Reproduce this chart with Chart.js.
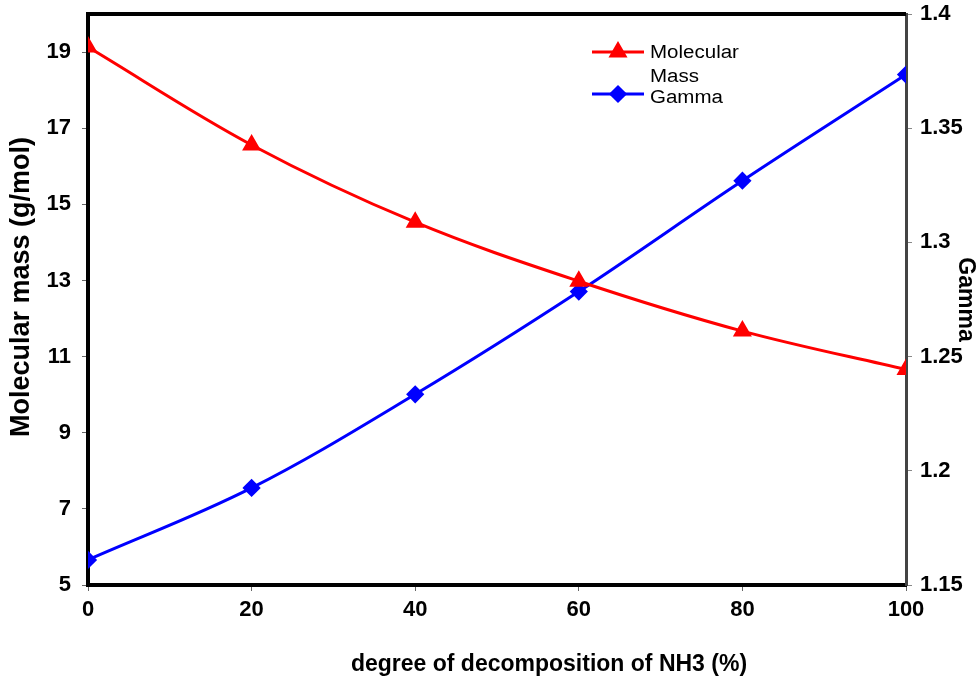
<!DOCTYPE html>
<html>
<head>
<meta charset="utf-8">
<script src="https://cdn.jsdelivr.net/npm/chart.js@4"></script>
<style>
  body { margin: 0; background: #fff; }
  #wrap { width: 979px; height: 683px; }
</style>
</head>
<body>
<div id="wrap"><canvas id="chart"></canvas></div>
<script>
// data
const decomposition = [0, 20, 40, 60, 80, 100]
const molecularMass = [19.13, 16.56, 14.53, 12.98, 11.67, 10.66]
const gamma = [1.161, 1.1925, 1.2335, 1.2785, 1.327, 1.3735]

const xTicks = [0, 20, 40, 60, 80, 100]
const massTicks = [5, 7, 9, 11, 13, 15, 17, 19]
const gammaTicks = [1.15, 1.2, 1.25, 1.3, 1.35, 1.4]

const legendLabels = [['Molecular', 'Mass'], ['Gamma']]
const xTitle = 'degree of decomposition of NH3 (%)'
const yTitle = 'Molecular mass (g/mol)'

const tickFont = { family: 'Liberation Sans, Arial', size: 22, weight: 'bold' }
const font = (size) => ({ family: 'Liberation Sans, Arial', size: size, weight: 'bold' })

// top frame line, legend and the two axis titles that sit off-centre
const extras = {
  id: 'extras',
  afterDraw(chart) {
    const c = chart.ctx
    const a = chart.chartArea
    c.save()
    c.strokeStyle = '#000'
    c.lineWidth = 4
    c.beginPath()
    c.moveTo(a.left - 2, a.top)
    c.lineTo(a.right, a.top)
    c.stroke()

    const items = [
      { color: '#ff0000', style: 'triangle', r: 8, y: 52 },
      { color: '#0000ff', style: 'rectRot', r: 7, y: 94 }
    ]
    c.textBaseline = 'middle'
    items.forEach((it, i) => {
      c.strokeStyle = it.color
      c.lineWidth = 3
      c.beginPath()
      c.moveTo(592, it.y)
      c.lineTo(644, it.y)
      c.stroke()
      c.fillStyle = it.color
      Chart.helpers.drawPoint(c, { pointStyle: it.style, radius: it.r, borderWidth: 1 }, 618, it.y)
      c.fillStyle = '#000'
      legendLabels[i].forEach((t, j) => {
        c.save()
        c.translate(650, it.y + 1 + j * 24 + (i == 1 ? 3 : 0))
        c.scale(1.14, 1)
        c.font = '18px Liberation Sans, Arial'
        c.fillText(t, 0, 0)
        c.restore()
      })
    })

    c.fillStyle = '#000'
    c.textAlign = 'center'
    c.font = 'bold 23px Liberation Sans, Arial'
    c.fillText(xTitle, 549, 665)
    c.translate(22, 287)
    c.rotate(-Math.PI / 2)
    c.font = 'bold 27px Liberation Sans, Arial'
    c.fillText(yTitle, 0, 0)
    c.restore()
  }
}

new Chart(document.getElementById('chart'), {
  type: 'line',
  data: {
    labels: decomposition,
    datasets: [
      {
        label: 'Molecular Mass',
        data: decomposition.map((x, i) => ({ x: x, y: molecularMass[i] })),
        borderColor: '#ff0000',
        backgroundColor: '#ff0000',
        borderWidth: 3,
        pointStyle: 'triangle',
        pointRadius: 8,
        pointHoverRadius: 8,
        tension: 0.35,
        yAxisID: 'y'
      },
      {
        label: 'Gamma',
        data: decomposition.map((x, i) => ({ x: x, y: gamma[i] })),
        borderColor: '#0000ff',
        backgroundColor: '#0000ff',
        borderWidth: 3,
        pointStyle: 'rectRot',
        pointRadius: 7,
        pointHoverRadius: 7,
        tension: 0.35,
        yAxisID: 'y2'
      }
    ]
  },
  options: {
    responsive: true,
    maintainAspectRatio: false,
    animation: false,
    layout: { padding: { top: 14, left: 0, right: 0, bottom: 0 } },
    plugins: { legend: { display: false }, tooltip: { enabled: false } },
    scales: {
      x: {
        type: 'linear',
        min: 0,
        max: 100,
        afterBuildTicks: s => { s.ticks = xTicks.map(v => ({ value: v })) },
        afterFit: s => { s.height = 98; s.paddingLeft = 0; s.paddingRight = 0 },
        grid: { drawOnChartArea: false, tickLength: 6, color: '#666' },
        border: { color: '#000', width: 4 },
        ticks: { color: '#000', font: tickFont, padding: 6, maxRotation: 0 }
      },
      y: {
        position: 'left',
        min: 5,
        max: 20,
        afterBuildTicks: s => { s.ticks = massTicks.map(v => ({ value: v })) },
        afterFit: s => { s.width = 88; s.paddingTop = 0; s.paddingBottom = 0 },
        grid: { drawOnChartArea: false, tickLength: 6, color: '#666' },
        border: { color: '#000', width: 4 },
        ticks: { color: '#000', font: tickFont, padding: 11 }
      },
      y2: {
        position: 'right',
        min: 1.15,
        max: 1.4,
        afterBuildTicks: s => { s.ticks = gammaTicks.map(v => ({ value: v })) },
        afterFit: s => { s.width = 73; s.paddingTop = 0; s.paddingBottom = 0 },
        grid: { drawOnChartArea: false, tickLength: 6, color: '#888' },
        border: { color: '#444', width: 3 },
        ticks: { color: '#000', font: tickFont, padding: 8, callback: v => String(+v.toFixed(2)) },
        title: {
          display: true,
          text: 'Gamma',
          color: '#000',
          font: font(23),
          padding: { top: 0, bottom: 2 }
        }
      }
    }
  },
  plugins: [extras]
})
</script>
</body>
</html>
